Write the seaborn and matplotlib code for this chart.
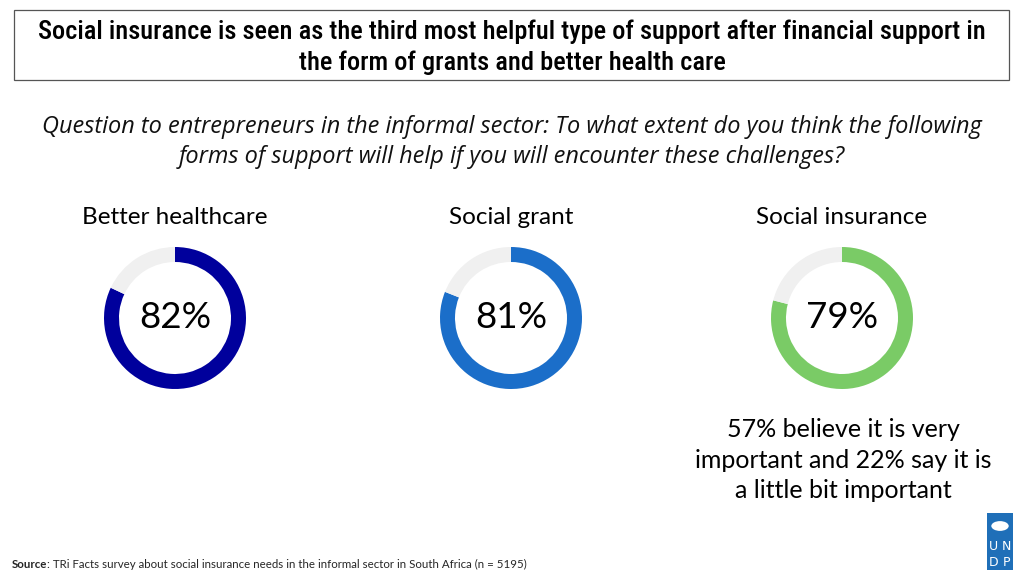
import matplotlib
matplotlib.use("Agg")
import matplotlib.pyplot as plt
from matplotlib.patches import Rectangle, Circle
import seaborn as sns

# data
categories = ["Better healthcare", "Social grant", "Social insurance"]
helpful_pct = [82, 81, 79]
ring_colors = ["#00009C", "#1B6EC9", "#7ACB66"]
rest_color = "#F0F0F0"

title = ("Social insurance is seen as the third most helpful type of support after financial support in\n"
         "the form of grants and better health care")
question = ("Question to entrepreneurs in the informal sector: To what extent do you think the following\n"
            "forms of support will help if you will encounter these challenges?")
note = "57% believe it is very\nimportant and 22% say it is\na little bit important"
source_rest = ": TRi Facts survey about social insurance needs in the informal sector in South Africa (n = 5195)"

sns.set_theme(style="white")
plt.rcParams["font.family"] = ["Lato", "DejaVu Sans"]

W, H = 1024, 576
fig = plt.figure(figsize=(W / 100, H / 100), dpi=100)
fig.patch.set_facecolor("white")

def fx(px):
    return px / W

def fy(py):
    return 1 - py / H

# title box
fig.patches.append(Rectangle((fx(14), fy(80)), fx(995), 70 / H, transform=fig.transFigure,
                             fill=False, edgecolor="#555555", linewidth=0.9))
fig.text(0.5, fy(47), title, ha="center", va="center", fontsize=19, fontweight="medium",
         family=["Roboto Condensed", "Roboto", "DejaVu Sans"],
         linespacing=1.32, color="black")

fig.text(0.5, fy(142), question, ha="center", va="center", fontsize=16.9, style="italic",
         family=["Open Sans", "DejaVu Sans"], linespacing=1.3, color="#111111")

centers_x = [175, 511, 842]
cy = 318
size = 150
radius = 71 / 75
for cx, cat, val, col in zip(centers_x, categories, helpful_pct, ring_colors):
    ax = fig.add_axes([fx(cx - size / 2), fy(cy + size / 2), size / W, size / H])
    ax.pie([val, 100 - val], colors=[col, rest_color], startangle=90, counterclock=False,
           radius=radius, wedgeprops=dict(width=radius * 15 / 71, edgecolor="none"))
    ax.set_aspect("equal")
    ax.set_xlim(-1, 1)
    ax.set_ylim(-1, 1)
    ax.axis("off")
    ax.text(0, 0, f"{val}%", ha="center", va="center", fontsize=26.5, color="black")
    fig.text(fx(cx), fy(217), cat, ha="center", va="center", fontsize=17.5, color="black")

fig.text(fx(843), fy(460), note, ha="center", va="center", fontsize=18, linespacing=1.38,
         color="black")

# source line
t = fig.text(fx(12), fy(564), "Source", ha="left", va="center", fontsize=8.3, fontweight="bold")
fig.canvas.draw()
bb = t.get_window_extent()
fig.text(bb.x1 / W, fy(564), source_rest, ha="left", va="center", fontsize=8.3)

# UNDP logo
logo_blue = "#1F6FB8"
fig.patches.append(Rectangle((fx(987), fy(570)), 26 / W, 57 / H, transform=fig.transFigure,
                             facecolor=logo_blue, edgecolor="none"))
fig.patches.append(Circle((fx(1000), fy(526)), 0.0085, transform=fig.transFigure,
                          facecolor="white", edgecolor="none"))
for lx, ly, ch in [(993.5, 547, "U"), (1006.5, 547, "N"), (993.5, 562, "D"), (1006.5, 562, "P")]:
    fig.text(fx(lx), fy(ly), ch, ha="center", va="center", fontsize=9, color="white",
             family=["DejaVu Sans"])

fig.savefig("out.png", dpi=100)
